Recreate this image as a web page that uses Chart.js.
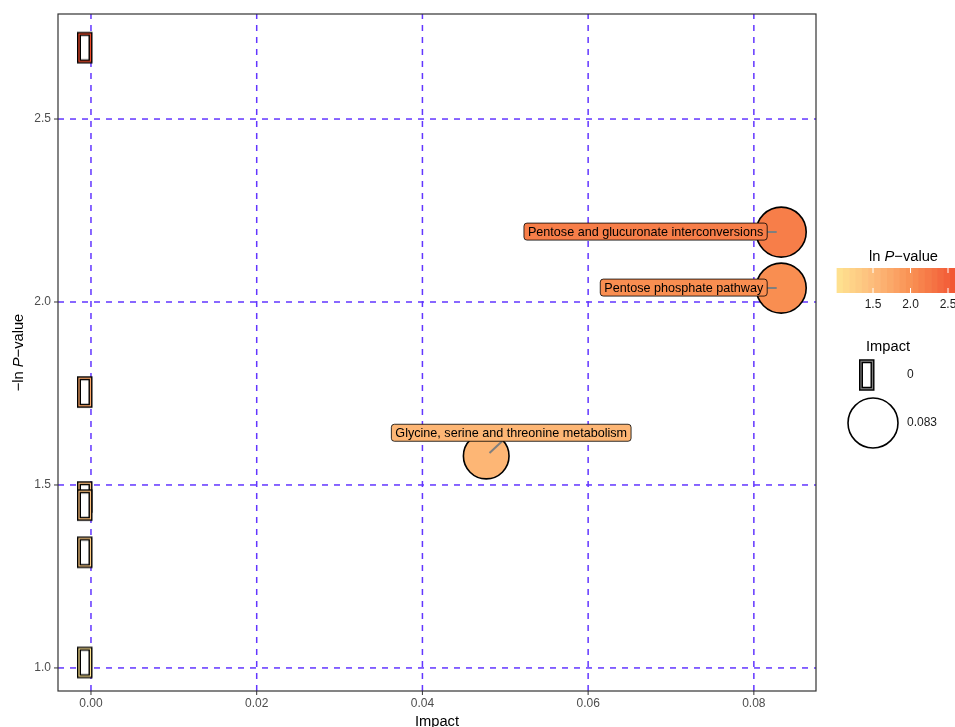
<!DOCTYPE html>
<html>
<head>
<meta charset="utf-8">
<script src="https://cdn.jsdelivr.net/npm/chart.js@4/dist/chart.umd.min.js"></script>
<style>
  html, body { margin: 0; padding: 0; background: #ffffff; }
  #wrap { width: 955px; height: 727px; position: relative; }
</style>
</head>
<body>
<div id="wrap"><canvas id="c" width="955" height="727"></canvas></div>
<script>
// Pathway impact vs. -ln P-value
const pathways = ['', '', '', '', '', '',
  'Pentose and glucuronate interconversions',
  'Pentose phosphate pathway',
  'Glycine, serine and threonine metabolism'];
const impact = [0, 0, 0, 0, 0, 0, 0.0833, 0.0833, 0.0477];
const negLnP = [2.695, 1.754, 1.467, 1.445, 1.316, 1.015, 2.191, 2.038, 1.579];
const xTicks = [0, 0.02, 0.04, 0.06, 0.08];
const yTicks = [1.0, 1.5, 2.0, 2.5];
const colorTicks = [1.5, 2.0, 2.5];
const sizeBreaks = [0, 0.083];

const FONT = '"Liberation Sans", Arial, Helvetica, sans-serif';
const GRID = '#6236FF';

// colour scale for -ln P (light yellow -> red)
const cMin = Math.min(...negLnP), cMax = Math.max(...negLnP);
const colorStops = [[0, [254, 227, 145]], [0.3, [253, 187, 122]], [0.6, [249, 143, 82]], [0.88, [243, 96, 58]], [1, [239, 74, 42]]];
function colorOf(v) {
  const t = Math.max(0, Math.min(1, (v - cMin) / (cMax - cMin)));
  for (let k = 1; k < colorStops.length; k++) {
    const [t1, c1] = colorStops[k];
    const [t0, c0] = colorStops[k - 1];
    if (t <= t1) {
      const f = (t - t0) / (t1 - t0);
      const c = c0.map((a, j) => Math.round(a + (c1[j] - a) * f));
      return `rgb(${c[0]},${c[1]},${c[2]})`;
    }
  }
  return 'rgb(239,74,42)';
}

// size scale (area-style mapping) for impact
const impactMax = Math.max(...impact);
function radiusOf(v) { return 16 + 9 * Math.sqrt(v / impactMax); }

// box glyph used for zero-impact pathways; glyph sits a little left of its anchor
function boxGlyph(color) {
  const c = document.createElement('canvas');
  c.width = 30; c.height = 36;
  const g = c.getContext('2d');
  const h = 2 * radiusOf(0) - 4.5, w = 11.5;
  const x0 = 3, y0 = (36 - h) / 2;
  g.fillStyle = '#ffffff';
  g.fillRect(x0, y0, w, h);
  g.strokeStyle = '#000000'; g.lineWidth = 4;
  g.strokeRect(x0, y0, w, h);
  g.strokeStyle = color; g.lineWidth = 1.2;
  g.strokeRect(x0, y0, w, h);
  return c;
}

const zeroIdx = impact.map((v, i) => i).filter(i => impact[i] === 0);
const posIdx = impact.map((v, i) => i).filter(i => impact[i] > 0);

// label placement (pixel offsets of the label box relative to its point)
const labelPlace = {
  6: { mode: 'left', gap: 14, dy: -0.5 },
  7: { mode: 'left', gap: 14, dy: -0.5 },
  8: { mode: 'center', dx: 25, dy: -23.3 }
};

function richWidth(ctx, parts, size) {
  let w = 0;
  for (const p of parts) {
    ctx.font = (p.i ? 'italic ' : '') + size + 'px ' + FONT;
    w += ctx.measureText(p.t).width;
  }
  return w;
}
function drawRich(ctx, parts, x, y, size, color) {
  ctx.fillStyle = color;
  ctx.textAlign = 'left';
  let cx = x;
  for (const p of parts) {
    ctx.font = (p.i ? 'italic ' : '') + size + 'px ' + FONT;
    ctx.fillText(p.t, cx, y);
    cx += ctx.measureText(p.t).width;
  }
}

const decor = {
  id: 'decor',
  beforeDatasetsDraw(chart) {
    const ctx = chart.ctx;
    const { left, right, top, bottom } = chart.chartArea;
    const xs = chart.scales.x, ys = chart.scales.y;
    ctx.save();
    ctx.strokeStyle = GRID;
    ctx.lineWidth = 1.5;
    ctx.setLineDash([6, 6]);
    for (const v of xTicks) {
      const px = xs.getPixelForValue(v);
      ctx.beginPath(); ctx.moveTo(px, bottom); ctx.lineTo(px, top); ctx.stroke();
    }
    for (const v of yTicks) {
      const py = ys.getPixelForValue(v);
      ctx.beginPath(); ctx.moveTo(left, py); ctx.lineTo(right, py); ctx.stroke();
    }
    ctx.restore();
  },
  afterDatasetsDraw(chart) {
    const ctx = chart.ctx;
    const { left, right, top, bottom } = chart.chartArea;
    const xs = chart.scales.x, ys = chart.scales.y;
    ctx.save();

    // repelled labels with leader segments
    const lf = 12.6;
    for (const i of Object.keys(labelPlace).map(Number)) {
      const px = xs.getPixelForValue(impact[i]);
      const py = ys.getPixelForValue(negLnP[i]);
      const pl = labelPlace[i];
      ctx.font = lf + 'px ' + FONT;
      const tw = ctx.measureText(pathways[i]).width;
      const bw = tw + 8, bh = 17;
      let cx, cy;
      if (pl.mode === 'left') { cx = px - pl.gap - bw / 2; cy = py + pl.dy; }
      else { cx = px + pl.dx; cy = py + pl.dy; }
      const dx = cx - px, dy = cy - py;
      const len = Math.hypot(dx, dy);
      const ux = dx / len, uy = dy / len;
      const tEdge = Math.min(Math.abs(ux) > 1e-6 ? (bw / 2) / Math.abs(ux) : 1e9,
                             Math.abs(uy) > 1e-6 ? (bh / 2) / Math.abs(uy) : 1e9);
      ctx.strokeStyle = '#7f7f7f';
      ctx.lineWidth = 2;
      ctx.beginPath();
      ctx.moveTo(px + ux * 4.5, py + uy * 4.5);
      ctx.lineTo(cx - ux * tEdge, cy - uy * tEdge);
      ctx.stroke();

      ctx.beginPath();
      ctx.roundRect(cx - bw / 2, cy - bh / 2, bw, bh, 3);
      ctx.fillStyle = colorOf(negLnP[i]);
      ctx.fill();
      ctx.strokeStyle = '#000000';
      ctx.lineWidth = 0.8;
      ctx.stroke();
      ctx.fillStyle = '#000000';
      ctx.textAlign = 'center';
      ctx.textBaseline = 'middle';
      ctx.fillText(pathways[i], cx, cy + 0.5);
    }

    // panel border
    ctx.strokeStyle = '#333333';
    ctx.lineWidth = 1.2;
    ctx.strokeRect(left, top, right - left, bottom - top);

    // ticks and tick labels
    ctx.lineWidth = 1;
    ctx.font = '12px ' + FONT;
    ctx.fillStyle = '#4d4d4d';
    ctx.textBaseline = 'middle';
    ctx.textAlign = 'center';
    for (const v of xTicks) {
      const px = xs.getPixelForValue(v);
      ctx.beginPath(); ctx.moveTo(px, bottom); ctx.lineTo(px, bottom + 4); ctx.stroke();
      ctx.fillText(v.toFixed(2), px, bottom + 13);
    }
    ctx.textAlign = 'right';
    for (const v of yTicks) {
      const py = ys.getPixelForValue(v);
      ctx.beginPath(); ctx.moveTo(left - 4, py); ctx.lineTo(left, py); ctx.stroke();
      ctx.fillText(v.toFixed(1), left - 7, py);
    }

    // axis titles
    const tf = 14.7;
    ctx.fillStyle = '#000000';
    ctx.font = tf + 'px ' + FONT;
    ctx.textAlign = 'center';
    ctx.textBaseline = 'alphabetic';
    ctx.fillText('Impact', (left + right) / 2, 725.5);

    const yTitle = [{ t: '\u2212ln ', i: false }, { t: 'P', i: true }, { t: '\u2212value', i: false }];
    ctx.save();
    ctx.translate(18.5, (top + bottom) / 2);
    ctx.rotate(-Math.PI / 2);
    ctx.textBaseline = 'middle';
    const yw = richWidth(ctx, yTitle, tf);
    drawRich(ctx, yTitle, -yw / 2, 0, tf, '#000000');
    ctx.restore();

    // colour legend
    ctx.textBaseline = 'middle';
    drawRich(ctx, [{ t: 'ln ', i: false }, { t: 'P', i: true }, { t: '\u2212value', i: false }], 869, 257, tf, '#000000');
    const barL = 873 - (1.5 - cMin) * 75, barT = 268, barH = 25;
    const nb = 20, binW = (cMax - cMin) * 75 / nb;
    for (let k = 0; k < nb; k++) {
      const v = cMin + (cMax - cMin) * (k + 0.5) / nb;
      ctx.fillStyle = colorOf(v);
      ctx.fillRect(barL + k * binW, barT, binW + 0.6, barH);
    }
    ctx.strokeStyle = '#ffffff';
    ctx.lineWidth = 1;
    ctx.font = '12px ' + FONT;
    ctx.textAlign = 'center';
    for (const v of colorTicks) {
      const tx = barL + (v - cMin) * 75;
      ctx.beginPath(); ctx.moveTo(tx, barT); ctx.lineTo(tx, barT + 5); ctx.stroke();
      ctx.beginPath(); ctx.moveTo(tx, barT + barH - 5); ctx.lineTo(tx, barT + barH); ctx.stroke();
      ctx.fillStyle = '#1a1a1a';
      ctx.fillText(v.toFixed(1), tx, 305);
    }

    // size legend
    ctx.fillStyle = '#000000';
    ctx.font = tf + 'px ' + FONT;
    ctx.textAlign = 'left';
    ctx.fillText('Impact', 866, 347);
    const keyX = 873;
    const keyY = [375, 423];
    ctx.drawImage(boxGlyph('#7f7f7f'), keyX - 15, keyY[0] - 18);
    ctx.beginPath();
    ctx.arc(keyX, keyY[1], radiusOf(sizeBreaks[1]), 0, Math.PI * 2);
    ctx.fillStyle = '#ffffff';
    ctx.fill();
    ctx.strokeStyle = '#000000';
    ctx.lineWidth = 1.6;
    ctx.stroke();
    ctx.fillStyle = '#1a1a1a';
    ctx.font = '12px ' + FONT;
    ctx.fillText(String(sizeBreaks[0]), 907, keyY[0]);
    ctx.fillText(sizeBreaks[1].toFixed(3), 907, keyY[1]);

    ctx.restore();
  }
};

new Chart(document.getElementById('c').getContext('2d'), {
  type: 'scatter',
  data: {
    datasets: [
      {
        data: zeroIdx.map(i => ({ x: impact[i], y: negLnP[i] })),
        pointStyle: zeroIdx.map(i => boxGlyph(colorOf(negLnP[i]))),
        pointRadius: 16
      },
      {
        data: posIdx.map(i => ({ x: impact[i], y: negLnP[i] })),
        pointStyle: 'circle',
        pointRadius: posIdx.map(i => radiusOf(impact[i])),
        backgroundColor: posIdx.map(i => colorOf(negLnP[i])),
        borderColor: '#000000',
        borderWidth: 1.6
      }
    ]
  },
  options: {
    responsive: false,
    animation: false,
    devicePixelRatio: 1,
    events: [],
    layout: { autoPadding: false, padding: { left: 58, right: 139, top: 14, bottom: 36 } },
    plugins: { legend: { display: false }, tooltip: { enabled: false } },
    scales: {
      x: { type: 'linear', min: -0.00398, max: 0.0875, display: false },
      y: { type: 'linear', min: 0.937, max: 2.787, display: false }
    }
  },
  plugins: [decor]
});
</script>
</body>
</html>
